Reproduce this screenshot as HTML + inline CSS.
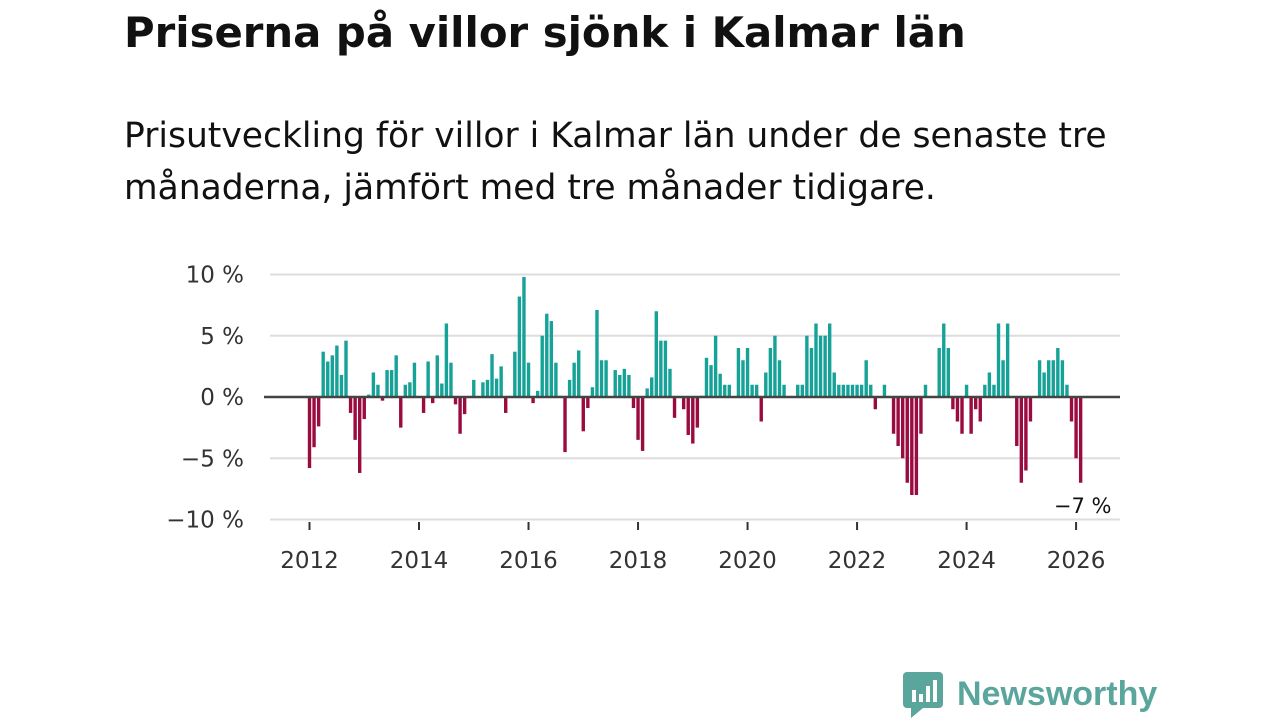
<!DOCTYPE html>
<html><head><meta charset="utf-8"><style>
body{margin:0;width:1280px;height:720px;background:#fff;font-family:"DejaVu Sans","Liberation Sans",sans-serif;overflow:hidden;position:relative}
h1{position:absolute;left:124px;top:8px;margin:0;font-size:41.8px;font-weight:bold;color:#111;white-space:nowrap}
p{position:absolute;left:124px;top:110px;margin:0;font-size:34.5px;line-height:52px;color:#111;white-space:nowrap}
svg{position:absolute;left:0;top:0}
</style></head><body>
<h1>Priserna på villor sjönk i Kalmar län</h1>
<p>Prisutveckling för villor i Kalmar län under de senaste tre<br>månaderna, jämfört med tre månader tidigare.</p>
<svg id="chart" width="1280" height="720"></svg>
<div style="position:absolute;left:903px;top:670px;display:flex;align-items:center">
<svg width="40" height="48" style="position:static"><rect x="0" y="2" width="40" height="36" rx="4" fill="#5aa59c"/><polygon points="8,38 20,38 8,48" fill="#5aa59c"/><rect x="9" y="20" width="4" height="12" fill="#fff"/><rect x="16" y="24" width="4" height="8" fill="#fff"/><rect x="23" y="16" width="4" height="16" fill="#fff"/><rect x="30" y="10" width="4" height="22" fill="#fff"/></svg>
<span style="margin-left:14px;font-size:34px;font-weight:bold;color:#5aa59c;font-family:'Liberation Sans',sans-serif">Newsworthy</span></div>
<script>
const yTicks=[10,5,0,-5,-10];
const yTickLabels=["10 %","5 %","0 %","−5 %","−10 %"];
const xYears=[2012,2014,2016,2018,2020,2022,2024,2026];
const startYear=2012;
const values=[-5.8,-4.1,-2.4,3.7,2.9,3.4,4.2,1.8,4.6,-1.3,-3.5,-6.2,-1.8,0.2,2.0,1.0,-0.3,2.2,2.2,3.4,-2.5,1.0,1.2,2.8,0,-1.3,2.9,-0.5,3.4,1.1,6.0,2.8,-0.6,-3.0,-1.4,0,1.4,0,1.2,1.4,3.5,1.5,2.5,-1.3,0,3.7,8.2,9.8,2.8,-0.5,0.5,5.0,6.8,6.2,2.8,0.1,-4.5,1.4,2.8,3.8,-2.8,-0.9,0.8,7.1,3.0,3.0,0,2.2,1.8,2.3,1.8,-0.9,-3.5,-4.4,0.7,1.6,7.0,4.6,4.6,2.3,-1.7,0,-1.0,-3.1,-3.8,-2.5,0.1,3.2,2.6,5.0,1.9,1.0,1.0,0,4.0,3.0,4.0,1.0,1.0,-2.0,2.0,4.0,5.0,3.0,1.0,0,0,1.0,1.0,5.0,4.0,6.0,5.0,5.0,6.0,2.0,1.0,1.0,1.0,1.0,1.0,1.0,3.0,1.0,-1.0,0,1.0,0,-3.0,-4.0,-5.0,-7.0,-8.0,-8.0,-3.0,1.0,0,0,4.0,6.0,4.0,-1.0,-2.0,-3.0,1.0,-3.0,-1.0,-2.0,1.0,2.0,1.0,6.0,3.0,6.0,0,-4.0,-7.0,-6.0,-2.0,0,3.0,2.0,3.0,3.0,4.0,3.0,1.0,-2.0,-5.0,-7.0];
const lastLabel="−7 %";
const svg=document.getElementById('chart');
const NS='http://www.w3.org/2000/svg';
const FONT='DejaVu Sans, Liberation Sans, sans-serif';
const y=v=>397-v*12.25;
const x=i=>309.5+i*4.563;
function mk(t,a){const e=document.createElementNS(NS,t);for(const k in a)e.setAttribute(k,a[k]);svg.appendChild(e);return e;}
yTicks.forEach((t,k)=>{
 if(t!==0){const g=mk('line',{x1:270,x2:1120,y1:y(t),y2:y(t),stroke:'#ddd','stroke-width':2});
 
 }
 const l=mk('text',{x:244,y:y(t)+8,'text-anchor':'end','font-size':23,fill:'#333','font-family':FONT});
 l.textContent=yTickLabels[k];
 
 
});
values.forEach((v,i)=>{
 const r=mk('rect',{x:x(i)-1.7,width:3.4,y:Math.min(y(v),y(0)),height:Math.abs(y(v)-y(0)),fill:v>=0?'#17a298':'#9a0b40'});
 
 
});
const z=mk('line',{x1:264,x2:1120,y1:y(0),y2:y(0),stroke:'#444','stroke-width':2.5});


xYears.forEach(yr=>{
 const px=x((yr-startYear)*12);
 const t=mk('line',{x1:px,x2:px,y1:522,y2:530,stroke:'#333','stroke-width':2});
 
 
 const l=mk('text',{x:px,y:568,'text-anchor':'middle','font-size':23,fill:'#333','font-family':FONT});
 l.textContent=yr;
 
 
});
const ll=mk('text',{x:x(values.length-1)+2,y:y(values[values.length-1])+30,'text-anchor':'middle','font-size':21,fill:'#111','font-family':FONT});
ll.textContent=lastLabel;


</script>
</body></html>
